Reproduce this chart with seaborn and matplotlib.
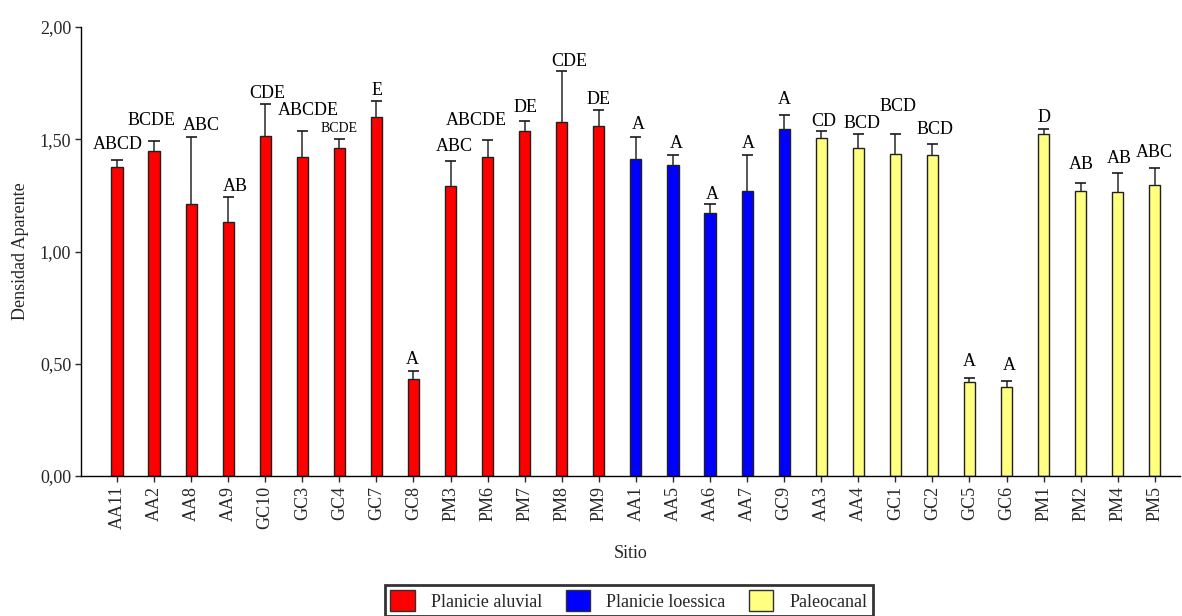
import matplotlib
matplotlib.use("Agg")
import matplotlib.pyplot as plt
from matplotlib.patches import Patch
from matplotlib.ticker import FuncFormatter
import numpy as np
import pandas as pd
import seaborn as sns

# Sites, bulk density means, upper standard errors and Tukey letters
sitios = ["AA11", "AA2", "AA8", "AA9", "GC10", "GC3", "GC4", "GC7", "GC8",
          "PM3", "PM6", "PM7", "PM8", "PM9",
          "AA1", "AA5", "AA6", "AA7", "GC9",
          "AA3", "AA4", "GC1", "GC2", "GC5", "GC6", "PM1", "PM2", "PM4", "PM5"]
grupos = (["Planicie aluvial"] * 14 + ["Planicie loessica"] * 5 + ["Paleocanal"] * 10)
densidad = [1.375, 1.448, 1.212, 1.130, 1.514, 1.421, 1.463, 1.598, 0.434,
            1.292, 1.421, 1.535, 1.577, 1.560,
            1.411, 1.384, 1.171, 1.269, 1.546,
            1.504, 1.463, 1.436, 1.431, 0.417, 0.396, 1.523, 1.269, 1.264, 1.296]
error_sup = [0.033, 0.043, 0.299, 0.111, 0.143, 0.117, 0.038, 0.071, 0.034,
             0.111, 0.076, 0.045, 0.226, 0.072,
             0.100, 0.044, 0.039, 0.159, 0.063,
             0.034, 0.059, 0.086, 0.049, 0.018, 0.029, 0.024, 0.035, 0.086, 0.076]
letras = ["ABCD", "BCDE", "ABC", "AB", "CDE", "ABCDE", "BCDE", "E", "A",
          "ABC", "ABCDE", "DE", "CDE", "DE",
          "A", "A", "A", "A", "A",
          "CD", "BCD", "BCD", "BCD", "A", "A", "D", "AB", "AB", "ABC"]

# Label placement (pixel offsets from the top of each whisker) and sizes
dx_px = [0.5, -3, 10, 7, 2, 6, 0, 1, -1.6, 4, -11, 1, 8, 0,
         2, 3.5, 2, 1, 0, 3, 3.4, 3, 3, 0, 3, 0, 1, 2, 0]
dy_px = [11, 16, 7, 6, 6, 16, 7, 6, 7, 10, 15, 9, 5, 6,
         8, 7, 5, 7.6, 11, 5, 6.6, 23.6, 9.7, 12.6, 10.7, 7, 14, 9.7, 11.3]
tam = [13] * len(letras)
tam[6] = 10

colores = {"Planicie aluvial": "#FF0000",
           "Planicie loessica": "#0000FF",
           "Paleocanal": "#FFFF80"}

df = pd.DataFrame({"Sitio": sitios, "Densidad": densidad, "Grupo": grupos})

sns.set_style("ticks")
plt.rcParams["font.family"] = ["Liberation Serif", "DejaVu Serif"]
plt.rcParams["font.size"] = 13

fig = plt.figure(figsize=(11.82, 6.16), dpi=100)
ax = fig.add_axes([81 / 1182, 140 / 616, 1099 / 1182, 449 / 616])

sns.barplot(data=df, x="Sitio", y="Densidad", hue="Grupo", palette=colores,
            dodge=False, width=0.30, saturation=1, edgecolor="#202020",
            linewidth=1.0, errorbar=None, legend=False, ax=ax)

x = np.arange(len(sitios))
top = np.array(densidad) + np.array(error_sup)
ax.vlines(x, densidad, top, color="#3a3a3a", linewidth=1.2, zorder=3)
ax.hlines(top, x - 0.15, x + 0.15, color="#1a1a1a", linewidth=1.2, zorder=3)

for i in range(len(sitios)):
    ax.annotate(letras[i], (x[i], top[i]),
                xytext=(dx_px[i] * 0.72, dy_px[i] * 0.72),
                textcoords="offset points", ha="center", va="baseline",
                fontsize=tam[i], color="black")

ax.set_ylim(0, 2.0)
ax.set_xlim(-0.97, len(sitios) - 1 + 0.68)
ax.set_yticks([0, 0.5, 1.0, 1.5, 2.0])
ax.yaxis.set_major_formatter(FuncFormatter(lambda v, p: f"{v:.2f}".replace(".", ",")))
ax.tick_params(axis="y", direction="out", length=4, width=1, labelsize=13, pad=3)
ax.tick_params(axis="x", direction="out", length=4, width=1, labelsize=13,
               rotation=90, pad=3)
for s in ("top", "right"):
    ax.spines[s].set_visible(False)
for s in ("left", "bottom"):
    ax.spines[s].set_linewidth(1.0)
    ax.spines[s].set_color("black")

ax.set_ylabel("Densidad Aparente", fontsize=13, labelpad=8)
ax.set_xlabel("Sitio", fontsize=13, labelpad=11)

handles = [Patch(facecolor=c, edgecolor="#303030", linewidth=1.0, label=g)
           for g, c in colores.items()]
leg = fig.legend(handles=handles, loc="upper center", ncol=3,
                 bbox_to_anchor=(0.532, 31 / 616), fontsize=13,
                 frameon=True, fancybox=False, handlelength=1.35,
                 handleheight=1.35, handletextpad=0.9, columnspacing=1.3,
                 borderpad=0.3, borderaxespad=0)
leg.get_frame().set_edgecolor("black")
leg.get_frame().set_linewidth(2.0)

fig.savefig("out.png", dpi=100)
